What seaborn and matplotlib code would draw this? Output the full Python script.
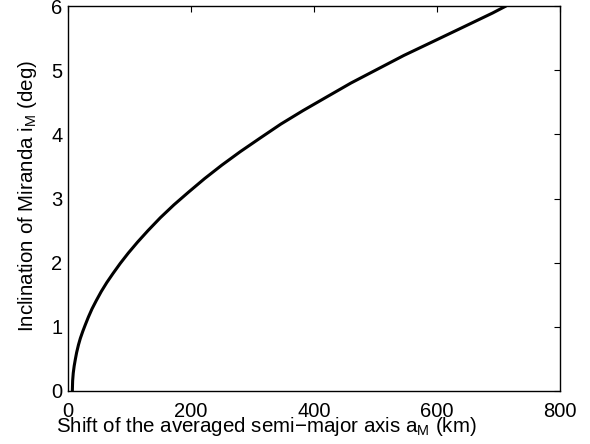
import matplotlib
matplotlib.use("Agg")
import matplotlib.pyplot as plt
import pandas as pd
import seaborn as sns

# shift of the averaged semi-major axis (km) vs inclination of Miranda (deg)
shift_km = [7, 7.5, 8.5, 10, 12, 14, 17, 20, 24, 28, 33, 39, 46, 54, 63,
            73, 85, 98, 113, 130, 150, 172, 196, 222, 250, 280, 312, 346,
            382, 420, 460, 502, 546, 592, 640, 690, 712]
incl_deg = [0.0, 0.16, 0.28, 0.39, 0.50, 0.60, 0.72, 0.82, 0.93, 1.03,
            1.15, 1.28, 1.41, 1.55, 1.69, 1.83, 1.99, 2.15, 2.32, 2.50,
            2.70, 2.90, 3.10, 3.31, 3.52, 3.73, 3.94, 4.16, 4.37, 4.58,
            4.80, 5.01, 5.23, 5.44, 5.66, 5.89, 6.0]

xticks = [0, 200, 400, 600, 800]
yticks = [0, 1, 2, 3, 4, 5, 6]

df = pd.DataFrame({"shift": shift_km, "incl": incl_deg})

sns.set_theme(style="white")
plt.rcParams['font.family'] = ['Liberation Sans', 'DejaVu Sans']
plt.rcParams['mathtext.default'] = 'regular'

fig = plt.figure(figsize=(5.9, 4.44), dpi=100)
ax = fig.add_axes([0.1153, 0.1194, 0.834, 0.867])

sns.lineplot(data=df, x="shift", y="incl", color="black", linewidth=2.2,
             sort=False, ax=ax)

ax.set_xlim(0, 800)
ax.set_ylim(0, 6)
ax.set_xticks(xticks)
ax.set_yticks(yticks)

for s in ax.spines.values():
    s.set_visible(True)
    s.set_color("black")
    s.set_linewidth(1.0)

ax.tick_params(direction="in", length=4, width=0.8, color="black",
               top=True, right=True, labelsize=14.5, labelcolor="black")
ax.tick_params(axis="x", pad=8)
ax.tick_params(axis="y", pad=4)

ax.set_xlabel("Shift of the averaged semi\u2212major axis a$_M$ (km)",
              fontsize=14.8, color="black", ha="left")
ax.xaxis.set_label_coords(-0.025, -0.062)
ax.set_ylabel("Inclination of Miranda i$_M$ (deg)", fontsize=14.8,
              color="black")
ax.yaxis.set_label_coords(-0.06, 0.506)

fig.savefig("out.png", dpi=100)
